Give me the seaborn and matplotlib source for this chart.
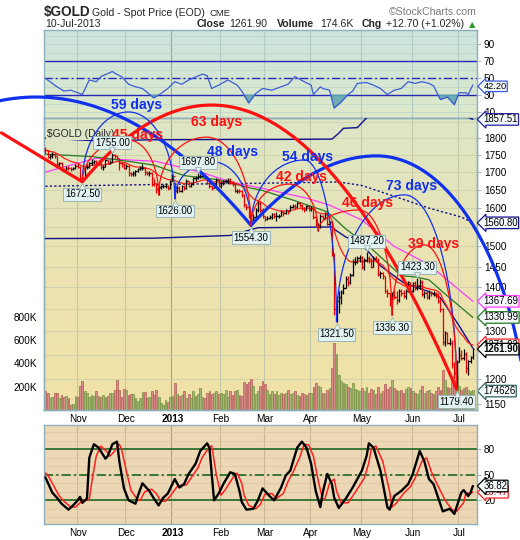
import numpy as np
import pandas as pd
import matplotlib
matplotlib.use("Agg")
import matplotlib.pyplot as plt
from matplotlib.colors import LinearSegmentedColormap
from matplotlib.collections import LineCollection
from matplotlib.transforms import offset_copy
import seaborn as sns

sns.set_theme(style="white")
plt.rcParams['font.family'] = ['Liberation Sans', 'DejaVu Sans']
plt.rcParams['axes.unicode_minus'] = False

# ---------------- data ----------------
HOLIDAYS = ["2012-11-22", "2012-12-25", "2013-01-01", "2013-01-21",
            "2013-02-18", "2013-03-29", "2013-05-27", "2013-07-04"]

oct_c = [1764,1745,1748,1752,1746,1724,1726,1707,1704,1712,1711,1709,1711,1718]
nov_c = [1715,1684,1680,1715,1715,1726,1730,1731,1725,1730,1714,1714,1734,1727,1730,1751,1748,1742,1725,1724,1713]
dec_c = [1718,1696,1694,1698,1702,1709,1712,1712,1700,1697,1698,1682,1668,1652,1658,1660,1660,1662,1656,1675]
jan_c = [1688,1648,1656,1646,1660,1655,1676,1662,1666,1682,1684,1688,1690,1692,1685,1670,1660,1656,1664,1678,1662]
feb_c = [1668,1674,1676,1678,1670,1667,1648,1648,1646,1636,1610,1604,1578,1568,1576,1594,1614,1596,1578]
mar_c = [1572,1574,1576,1584,1578,1578,1580,1590,1588,1594,1592,1604,1606,1604,1614,1608,1600,1596,1606,1598]
apr_c = [1600,1576,1554,1554,1578,1574,1586,1558,1562,1478,1350,1368,1378,1390,1398,1420,1412,1430,1460,1462,1470,1474]
may_c = [1448,1466,1470,1468,1450,1472,1466,1432,1434,1426,1392,1386,1364,1384,1378,1370,1392,1386,1380,1392,1412,1392]
jun_c = [1410,1398,1404,1414,1384,1387,1378,1390,1386,1388,1384,1368,1350,1278,1296,1276,1276,1230,1212,1234]
jul_c = [1250,1244,1252,1222,1236,1246,1261.9]

oct_h = [1772,1765,1752,1757,1755,1748,1730,1728,1712,1718,1717,1714,1716,1722]
nov_h = [1727,1718,1688,1718,1722,1730,1738,1735,1736,1735,1732,1720,1738,1736,1734,1755,1753,1750,1742,1730,1726]
dec_h = [1724,1720,1700,1704,1706,1712,1718,1724,1714,1702,1702,1700,1680,1668,1662,1664,1667,1668,1664,1678]
jan_h = [1694,1672,1660,1662,1664,1663,1680,1676,1672,1685,1690,1697.8,1694,1696,1694,1688,1672,1662,1668,1682,1680]
feb_h = [1675,1678,1680,1682,1682,1674,1668,1652,1652,1650,1638,1612,1606,1584,1584,1600,1620,1618,1600]
mar_h = [1580,1578,1582,1588,1586,1590,1584,1594,1592,1598,1596,1608,1612,1610,1616,1616,1610,1602,1608,1608]
apr_h = [1606,1602,1580,1560,1584,1582,1590,1590,1566,1566,1484,1380,1392,1395,1408,1426,1428,1434,1468,1474,1476,1478]
may_h = [1476,1470,1487.2,1475,1470,1476,1476,1470,1440,1436,1426,1396,1388,1390,1394,1392,1396,1396,1394,1396,1416,1414]
jun_h = [1414,1416,1423.3,1420,1418,1392,1392,1394,1392,1392,1390,1388,1376,1352,1300,1298,1286,1282,1234,1238]
jul_h = [1266,1260,1262,1256,1240,1248,1264]

oct_l = [1755,1740,1738,1742,1740,1720,1718,1702,1700,1702,1705,1704,1706,1708]
nov_l = [1711,1680,1672.5,1682,1708,1712,1720,1722,1720,1720,1710,1706,1715,1722,1722,1728,1740,1738,1705,1716,1708]
dec_l = [1708,1690,1688,1690,1690,1700,1705,1706,1693,1692,1690,1662,1662,1640,1636,1652,1655,1654,1650,1652]
jan_l = [1674,1626,1640,1643,1645,1650,1652,1658,1658,1664,1676,1680,1682,1685,1680,1666,1655,1650,1654,1662,1658]
feb_l = [1655,1664,1668,1670,1665,1660,1644,1640,1640,1630,1604,1596,1574,1554.3,1568,1572,1590,1590,1574]
mar_l = [1565,1568,1570,1572,1574,1565,1574,1578,1580,1585,1585,1592,1600,1598,1602,1602,1596,1590,1594,1592]
apr_l = [1592,1572,1552,1540,1548,1568,1572,1556,1554,1476,1336,1321.5,1340,1362,1385,1398,1404,1408,1428,1454,1458,1462]
may_l = [1444,1442,1462,1458,1446,1448,1460,1428,1422,1420,1388,1378,1358,1336.3,1372,1362,1366,1380,1376,1374,1390,1388]
jun_l = [1390,1394,1394,1396,1380,1376,1374,1374,1380,1380,1376,1364,1344,1270,1268,1272,1270,1222,1200,1179.4]
jul_l = [1234,1240,1238,1212,1208,1232,1242]

# volume in thousands
oct_v = [160,150,100,110,150,150,105,125,110,120,100,45,55,120]
nov_v = [115,210,250,160,150,110,130,120,160,120,115,130,110,120,150,150,175,260,170,110,180]
dec_v = [170,130,140,140,100,80,100,155,155,100,115,160,130,170,110,60,45,90,70,110]
jan_v = [120,230,135,120,130,160,105,140,100,160,120,140,190,110,100,150,160,140,150,160,140]
feb_v = [150,140,170,110,160,130,160,170,130,120,240,220,240,270,210,140,160,210,250]
mar_v = [220,170,140,160,140,160,130,150,140,150,170,140,150,160,130,120,150,140,130,150]
apr_v = [150,200,230,210,200,150,140,170,190,360,580,480,300,250,230,220,200,190,230,180,170,160]
may_v = [190,160,200,150,180,170,140,200,150,160,220,180,200,260,190,170,160,170,150,180,200,190]
jun_v = [160,150,140,170,210,150,160,170,150,140,160,200,170,340,260,200,190,250,260,300]
jul_v = [210,170,190,200,170,160,174.626]

# moving averages / bands (trading-day index, value)
green_i = [0, 20, 36, 47, 60, 75, 88, 94, 108, 122, 130, 141, 154, 160, 166, 174, 185]
green_v = [1752, 1745, 1731, 1720, 1690, 1678, 1656, 1648, 1620, 1590, 1545, 1495, 1428, 1425, 1418, 1380, 1330.99]
mag_i = [0, 22, 48, 67, 82, 94, 113, 123, 137, 151, 166, 180, 185]
mag_v = [1700, 1740, 1731, 1700, 1669, 1654, 1627, 1608, 1568, 1500, 1455, 1390, 1367.69]
bbc_i = [0, 30, 60, 90, 127, 137, 151, 166, 180, 185]
bbc_v = [1660, 1663, 1666, 1668, 1672, 1662, 1632, 1600, 1576, 1560.80]
bbu_i = [0, 22, 47, 84, 100, 124, 127, 129, 135, 140, 150, 165, 178, 185]
bbu_v = [1800, 1792, 1795, 1796, 1796, 1797, 1815, 1830, 1832, 1870, 1895, 1900, 1880, 1857.51]
bbl_i = [0, 47, 80, 92, 124, 126, 130, 135, 139, 145, 155, 166, 171, 179, 185]
bbl_v = [1520, 1521, 1528, 1548, 1550, 1540, 1524, 1511, 1492, 1452, 1411, 1390, 1376, 1313, 1264.09]

# RSI(14)
rsi_i = [0,3,5,8,11,16,19,22,24,29,30,33,36,39,42,47,50,53,56,59,62,68,70,72,75,79,83,85,88,91,
         94,98,102,105,108,112,115,116,119,120,123,125,128,131,133,135,139,142,145,148,151,154,157,160,
         163,166,168,171,174,177,179,182,183,185]
rsi_v = [50,44,40,35,36,31,48,46,52,58,56,52,43,40,38,27,32,38,46,43,48,55,53,38,42,48,42,35,21,32,
         38,36,40,43,52,46,42,31,40,38,36,15,22,31,35,44,45,42,38,31,36,38,46,44,
         46,44,41,25,28,19,33,33,31,42.20]

# Slow stochastic %K and %D
k_i = [0,3,5,7,10,12,14,15,16,18,19,21,23,26,27,29,31,32,34,36,39,40,42,45,47,49,51,53,56,58,60,62,65,67,70,71,
       73,75,77,80,82,84,85,87,90,92,94,97,99,102,104,106,109,111,113,115,117,119,120,122,124,125,127,130,133,
       137,139,140,142,145,148,149,151,154,157,159,162,164,166,168,172,175,177,180,181,183,184,185]
k_v = [47,29,23,16,9,14,20,24,17,22,70,86,82,69,72,86,89,66,34,20,16,25,40,31,22,14,23,28,45,35,39,51,63,78,87,82,
       20,28,39,53,51,31,18,9,10,20,34,25,20,35,49,55,82,89,82,63,31,12,29,51,39,23,11,22,35,
       55,72,87,82,55,12,9,25,31,39,51,78,66,45,39,7,10,4,29,32,25,29,36.82]
d_i = [0,1,4,6,8,11,13,15,16,17,19,20,22,24,27,28,30,32,33,35,37,40,41,43,46,48,50,52,54,57,59,61,63,66,68,71,
       72,74,76,78,81,83,85,86,88,91,93,95,98,100,103,105,107,110,112,114,116,118,120,121,123,125,126,128,131,134,
       138,140,141,143,146,149,150,152,155,158,160,163,165,167,169,173,176,178,181,182,184,185]
d_v = [52,50,35,25,19,12,12,17,20,20,21,40,72,84,76,72,78,86,80,55,32,20,20,30,33,28,19,19,25,36,38,38,46,58,71,83,
       84,50,26,33,46,52,40,26,14,10,15,27,28,22,28,42,52,70,86,85,72,44,21,22,40,45,31,17,17,29,
       46,64,80,84,66,30,12,17,28,36,46,66,70,54,42,20,9,7,17,29,28,29.47]

# labelled swing points (index, price, kind)
swing_i = [16, 29, 56, 66, 89, 126, 139, 150, 161, 178]
swing_p = [1672.50, 1755.00, 1626.00, 1697.80, 1554.30, 1321.50, 1487.20, 1336.30, 1423.30, 1179.40]
swing_k = ['low', 'high', 'low', 'high', 'low', 'low', 'high', 'low', 'high', 'low']

# cycle arcs: start(i,p), peak(i,p), end(i,p), shapes, colour, width
BLUE, RED = '#1030f0', '#ff1010'
arcs = [
    (-97, 1554.3, -3.9, 1929, 89, 1554.3, 'par', 'par', BLUE, 2.3),
    (89, 1554.3, 143.3, 1747, 210, 1030, 'par', 'ell', BLUE, 2.3),
    (16, 1672.5, 71.9, 1903, 178, 1179.4, 'par', 'par', RED, 2.3),
    (16, 1672.5, 35.9, 1881, 56, 1626.0, 'ell', 'ell', BLUE, 0.9),
    (56, 1626.0, 72.7, 1729, 89, 1554.3, 'ell', 'ell', BLUE, 0.9),
    (89, 1554.3, 112.1, 1735, 126, 1321.5, 'ell', 'ell', BLUE, 0.9),
    (126, 1321.5, 155.4, 1636, 178, 1179.4, 'ell', 'ell', BLUE, 0.9),
    (16, 1672.5, 35.9, 1794, 49, 1636.0, 'ell', 'ell', RED, 0.9),
    (49, 1636.0, 69.7, 1803, 89, 1554.3, 'ell', 'ell', RED, 0.9),
    (89, 1554.3, 105.6, 1666, 118, 1540.0, 'ell', 'ell', RED, 0.9),
    (118, 1540.0, 135.9, 1595, 150, 1336.3, 'ell', 'ell', RED, 0.9),
    (150, 1336.3, 164.0, 1504, 178, 1179.4, 'ell', 'ell', RED, 0.9),
]
red_line_i = [-19, 16]
red_line_p = [1816, 1672.5]

cycle_txt = ["59 days", "45 days", "63 days", "48 days", "54 days", "42 days", "46 days", "73 days", "39 days"]
cycle_i = [39.4, 39.8, 74.0, 81.0, 113.4, 110.8, 139.4, 158.4, 168.0]
cycle_p = [1903, 1809, 1848, 1758, 1744, 1687, 1615, 1660, 1506]
cycle_c = [BLUE, RED, RED, BLUE, BLUE, RED, RED, BLUE, RED]

price_ticks = [1150, 1200, 1300, 1400, 1450, 1500, 1600, 1650, 1700, 1750, 1800]

# header row: (text, x pixel, bold)
head_parts = [("Close", 197, True), ("1261.90", 229, False), ("Volume", 277, True),
              ("174.6K", 320, False), ("Chg", 362, True), ("+12.70 (+1.02%)", 386, False)]

# ---------------- assemble ----------------
dates = pd.bdate_range("2012-10-12", "2013-07-10", freq="C", holidays=HOLIDAYS)
close = np.array(oct_c + nov_c + dec_c + jan_c + feb_c + mar_c + apr_c + may_c + jun_c + jul_c, float)
high = np.array(oct_h + nov_h + dec_h + jan_h + feb_h + mar_h + apr_h + may_h + jun_h + jul_h, float)
low = np.array(oct_l + nov_l + dec_l + jan_l + feb_l + mar_l + apr_l + may_l + jun_l + jul_l, float)
vol = np.array(oct_v + nov_v + dec_v + jan_v + feb_v + mar_v + apr_v + may_v + jun_v + jul_v, float)
n = len(close)
dates = dates[:n]
idx = np.arange(n)
prev = np.r_[close[0] + 1, close[:-1]]
up = close >= prev
red_ma = pd.Series(close).ewm(span=16, adjust=False).mean().values

month_pos = [i for i in range(1, n) if dates[i].month != dates[i - 1].month]
month_lab = ['2013' if dates[i].month == 1 else dates[i].strftime('%b') for i in month_pos]

# ---------------- figure ----------------
FW, FH = 520, 540
fig = plt.figure(figsize=(FW / 100, FH / 100), dpi=100)
L, WD = 44 / FW, 433 / FW
ax_rsi = fig.add_axes([L, 1 - 118 / FH, WD, 88 / FH])
ax_vol = fig.add_axes([L, 1 - 410 / FH, WD, 292 / FH])
ax_px = fig.add_axes([L, 1 - 410 / FH, WD, 292 / FH])
ax_st = fig.add_axes([L, 1 - 524 / FH, WD, 99 / FH])
XL = (-0.6, 186.8)
SPINE = '#8fb0ba'
TFS = 7.2


def gradient(ax, stops):
    cmap = LinearSegmentedColormap.from_list('g', stops)
    ax.imshow(np.linspace(0, 1, 200).reshape(-1, 1), cmap=cmap, aspect='auto',
              extent=(0, 1, 0, 1), transform=ax.transAxes, origin='lower', zorder=0)


gradient(ax_rsi, ['#dde9c9', '#d4e6d4', '#cce4e0'])
gradient(ax_vol, ['#f1e2a6', '#ebe3b2', '#dde6c6'])
gradient(ax_st, ['#ecd7b4', '#edd9b6'])
ax_px.patch.set_alpha(0)

for ax in (ax_rsi, ax_vol, ax_px, ax_st):
    for s in ax.spines.values():
        s.set_color(SPINE)
        s.set_linewidth(1.0)
    ax.tick_params(colors='black', labelsize=TFS, length=3, width=0.6, pad=2)
    ax.tick_params(axis='both', color=SPINE)

# month grid lines
for ax, col in ((ax_rsi, '#b3cbc2'), (ax_vol, '#c4c6a6'), (ax_st, '#cdb893')):
    for mp, lab in zip(month_pos, month_lab):
        ax.axvline(mp - 0.5, color=('#9ea58a' if lab == '2013' else col), lw=0.8, zorder=1)

# ---------- RSI panel ----------
for v in range(10, 101, 10):
    ax_rsi.axhline(v, color='#bcd3cc', lw=0.5, zorder=1)
ax_rsi.axhline(70, color='#2828b8', lw=1.0, zorder=2)
ax_rsi.axhline(30, color='#2828b8', lw=1.0, zorder=2)
ax_rsi.axhline(50, color='#2828b8', lw=1.0, ls=(0, (6, 2, 1.5, 2)), zorder=2)
rv = np.array(rsi_v, float)
ax_rsi.fill_between(rsi_i, rv, 30, where=rv < 30, interpolate=True, color='#5fa4ad', alpha=0.85, zorder=2)
sns.lineplot(x=rsi_i, y=rsi_v, ax=ax_rsi, color='#3d5ad8', lw=0.9, zorder=3)
ax_rsi.set_ylim(3.3, 106.8)
ax_rsi.set_xlim(*XL)
ax_rsi.yaxis.tick_right()
ax_rsi.set_yticks([10, 30, 50, 70, 90])
ax_rsi.set_yticklabels(['10', '30', '50', '70', '90'])
ax_rsi.set_xticks([])
ax_rsi.set_xlabel('')
ax_rsi.set_ylabel('')

# ---------- volume panel ----------
VMAX = 2510
lo, hi = 1139.0, 1862.0
for p in range(1150, 1851, 50):
    fr = (np.log(p) - np.log(lo)) / (np.log(hi) - np.log(lo))
    ax_vol.plot([0, 1], [fr, fr], transform=ax_vol.transAxes, color='#cdd0ad', lw=0.6, zorder=1)
vcol = np.where(up, '#a4b978', '#d98d8a')
vedge = np.where(up, '#74903f', '#b45a58')
ax_vol.bar(idx, vol, width=0.78, color=vcol, edgecolor=vedge, linewidth=0.5, zorder=2)
ax_vol.set_ylim(0, VMAX)
ax_vol.set_xlim(*XL)
ax_vol.set_yticks([200, 400, 600, 800])
ax_vol.set_yticklabels(['200K', '400K', '600K', '800K'])
ax_vol.set_xticks([])
ax_vol.set_ylabel('')

# ---------- price panel ----------
ax_px.set_yscale('log')
segs, cols = [], []
for i in idx:
    c = 'black' if up[i] else '#e80000'
    o = prev[i] if i else close[i]
    segs += [[(i, low[i]), (i, high[i])], [(i, close[i]), (i + 0.55, close[i])],
             [(i - 0.55, o), (i, o)]]
    cols += [c, c, c]
ax_px.add_collection(LineCollection(segs, colors=cols, linewidths=0.9, zorder=4))

sns.lineplot(x=bbu_i, y=bbu_v, ax=ax_px, color='#10108a', lw=1.0, zorder=3)
sns.lineplot(x=bbl_i, y=bbl_v, ax=ax_px, color='#10108a', lw=1.0, zorder=3)
sns.lineplot(x=bbc_i, y=bbc_v, ax=ax_px, color='#10108a', lw=1.0, ls=(0, (1.6, 1.6)), zorder=3)
sns.lineplot(x=mag_i, y=mag_v, ax=ax_px, color='#ff3cff', lw=0.9, zorder=3)
sns.lineplot(x=green_i, y=green_v, ax=ax_px, color='#237a23', lw=0.9, zorder=3)
sns.lineplot(x=idx, y=red_ma, ax=ax_px, color='#ff2020', lw=0.9, zorder=3)


def half(ia, pa, ib, pb, shape, m=120):
    x = np.linspace(ia, ib, m)
    u = np.abs(x - ia) / abs(ib - ia)
    f = u ** 2 if shape == 'par' else 1 - np.sqrt(np.clip(1 - u ** 2, 0, 1))
    return x, np.exp(np.log(pa) + (np.log(pb) - np.log(pa)) * f)


for (i0, p0, ip, pp, i1, p1, sl, sr, col, lw) in arcs:
    xl, yl = half(ip, pp, i0, p0, sl)
    xr, yr = half(ip, pp, i1, p1, sr)
    ax_px.plot(np.r_[xl[::-1], xr], np.r_[yl[::-1], yr], color=col, lw=lw,
               clip_on=False, zorder=6, solid_capstyle='round')
ax_px.plot(red_line_i, red_line_p, color=RED, lw=2.3, clip_on=False, zorder=6)

ax_px.text(0.006, 0.945, "$GOLD (Daily)", transform=ax_px.transAxes, fontsize=7.4,
           ha='left', va='center', zorder=5,
           bbox=dict(boxstyle='square,pad=0.1', fc='#dde6c6', ec='none'))

for t, i, p, c in zip(cycle_txt, cycle_i, cycle_p, cycle_c):
    ax_px.text(i, p, t, color=c, fontsize=10, fontweight='bold', ha='center', va='center',
               clip_on=False, zorder=8)

BOXF, BOXE = '#e3f2f2', '#9ab4b4'
for i, p, k in zip(swing_i, swing_p, swing_k):
    dy = -9 if k == 'low' else 7.5
    ax_px.annotate(f"{p:.2f}", xy=(i, p), xytext=(0, dy), textcoords='offset points',
                   ha='center', va='center', fontsize=7.0, color='black',
                   bbox=dict(boxstyle='square,pad=0.15', fc=BOXF, ec=BOXE, lw=0.7),
                   zorder=9, annotation_clip=False)
    tr = offset_copy(ax_px.transData, fig=fig, x=0, y=(-3.2 if k == 'low' else 2.2), units='points')
    ax_px.plot([i], [p], transform=tr, marker=('^' if k == 'low' else 'v'), ms=4.5,
               mfc=BOXF, mec=BOXE, mew=0.6, zorder=9.5, clip_on=False)

ax_px.set_ylim(lo, hi)
ax_px.set_xlim(*XL)
ax_px.yaxis.tick_right()
ax_px.yaxis.set_minor_locator(matplotlib.ticker.NullLocator())
ax_px.set_yticks(price_ticks)
ax_px.set_yticklabels([str(p) for p in price_ticks])
ax_px.set_xticks(month_pos)
ax_px.set_xticklabels(month_lab)
ax_px.tick_params(axis='x', length=0, pad=3)
ax_px.set_xlabel('')
ax_px.set_ylabel('')
for lab in ax_px.get_xticklabels():
    if lab.get_text() == '2013':
        lab.set_fontweight('bold')

# ---------- stochastic panel ----------
for v in range(0, 101, 10):
    ax_st.axhline(v, color='#e0c9a4', lw=0.6, zorder=1)
G = '#0b5e16'
ax_st.axhline(80, color=G, lw=1.1, zorder=2)
ax_st.axhline(20, color=G, lw=1.1, zorder=2)
ax_st.axhline(50, color=G, lw=1.1, ls=(0, (6, 2, 1.5, 2)), zorder=2)
sns.lineplot(x=d_i, y=d_v, ax=ax_st, color='#ff2020', lw=1.1, zorder=3)
sns.lineplot(x=k_i, y=k_v, ax=ax_st, color='black', lw=1.7, zorder=4)
ax_st.set_ylim(-7.9, 108.6)
ax_st.set_xlim(*XL)
ax_st.yaxis.tick_right()
ax_st.set_yticks([20, 50, 80])
ax_st.set_yticklabels(['20', '50', '80'])
ax_st.set_xticks(month_pos)
ax_st.set_xticklabels(month_lab)
ax_st.tick_params(axis='x', length=0, pad=3)
ax_st.set_xlabel('')
ax_st.set_ylabel('')
for lab in ax_st.get_xticklabels():
    if lab.get_text() == '2013':
        lab.set_fontweight('bold')


# ---------- right-hand value boxes ----------
def rlabel(ax, val, text, ec, tc='black', bold=False, fc='#f4fafb', dy=0, fs=6.9):
    ax.annotate(text, xy=(1.0, val), xycoords=('axes fraction', 'data'), xytext=(4.5, dy),
                textcoords='offset points', ha='left', va='center', fontsize=fs,
                fontweight='bold' if bold else 'normal', color=tc,
                bbox=dict(boxstyle='larrow,pad=0.08', fc=fc, ec=ec, lw=0.9),
                annotation_clip=False, zorder=20)


rlabel(ax_rsi, rsi_v[-1], f"{rsi_v[-1]:.2f}", '#3d5ad8', dy=-1, fs=6.7)
rlabel(ax_px, bbu_v[-1], f"{bbu_v[-1]:.2f}", '#2020a0')
rlabel(ax_px, bbc_v[-1], f"{bbc_v[-1]:.2f}", '#10108a')
rlabel(ax_px, mag_v[-1], f"{mag_v[-1]:.2f}", '#ff3cff')
rlabel(ax_px, green_v[-1], f"{green_v[-1]:.2f}", '#237a23')
rlabel(ax_px, red_ma[-1], f"{red_ma[-1]:.2f}", '#ff2020')
rlabel(ax_px, close[-1], f"{close[-1]:.2f}", 'black', bold=True)
rlabel(ax_vol, vol[-1], f"{vol[-1] * 1000:.0f}", '#2f5f5f', dy=-1)
rlabel(ax_st, d_v[-1], f"{d_v[-1]:.2f}", '#ff2020', tc='#c00000')
rlabel(ax_st, k_v[-1], f"{k_v[-1]:.2f}", 'black')

# ---------- header ----------
fig.text(44 / FW, 1 - 16 / FH, "$GOLD", fontsize=9.8, fontweight='bold', va='baseline')
fig.text(92 / FW, 1 - 16 / FH, "Gold - Spot Price (EOD)", fontsize=7.6, va='baseline')
fig.text(210 / FW, 1 - 16 / FH, "CME", fontsize=6.8, va='baseline')
fig.text(45 / FW, 1 - 27 / FH, "10-Jul-2013", fontsize=7.6, va='baseline')
fig.text(477 / FW, 1 - 15 / FH, "\u00a9StockCharts.com", fontsize=7.6, color='#7a7a7a',
         ha='right', va='baseline')
for s, xp, b in head_parts:
    fig.text(xp / FW, 1 - 27 / FH, s, fontsize=7.6, fontweight=('bold' if b else 'normal'),
             va='baseline', ha='left')
fig.text(469 / FW, 1 - 27 / FH, "\u25b2", fontsize=6, color='#2a9a2a', va='baseline', ha='left',
         family=['DejaVu Sans'])

fig.savefig("out.png", dpi=100)
